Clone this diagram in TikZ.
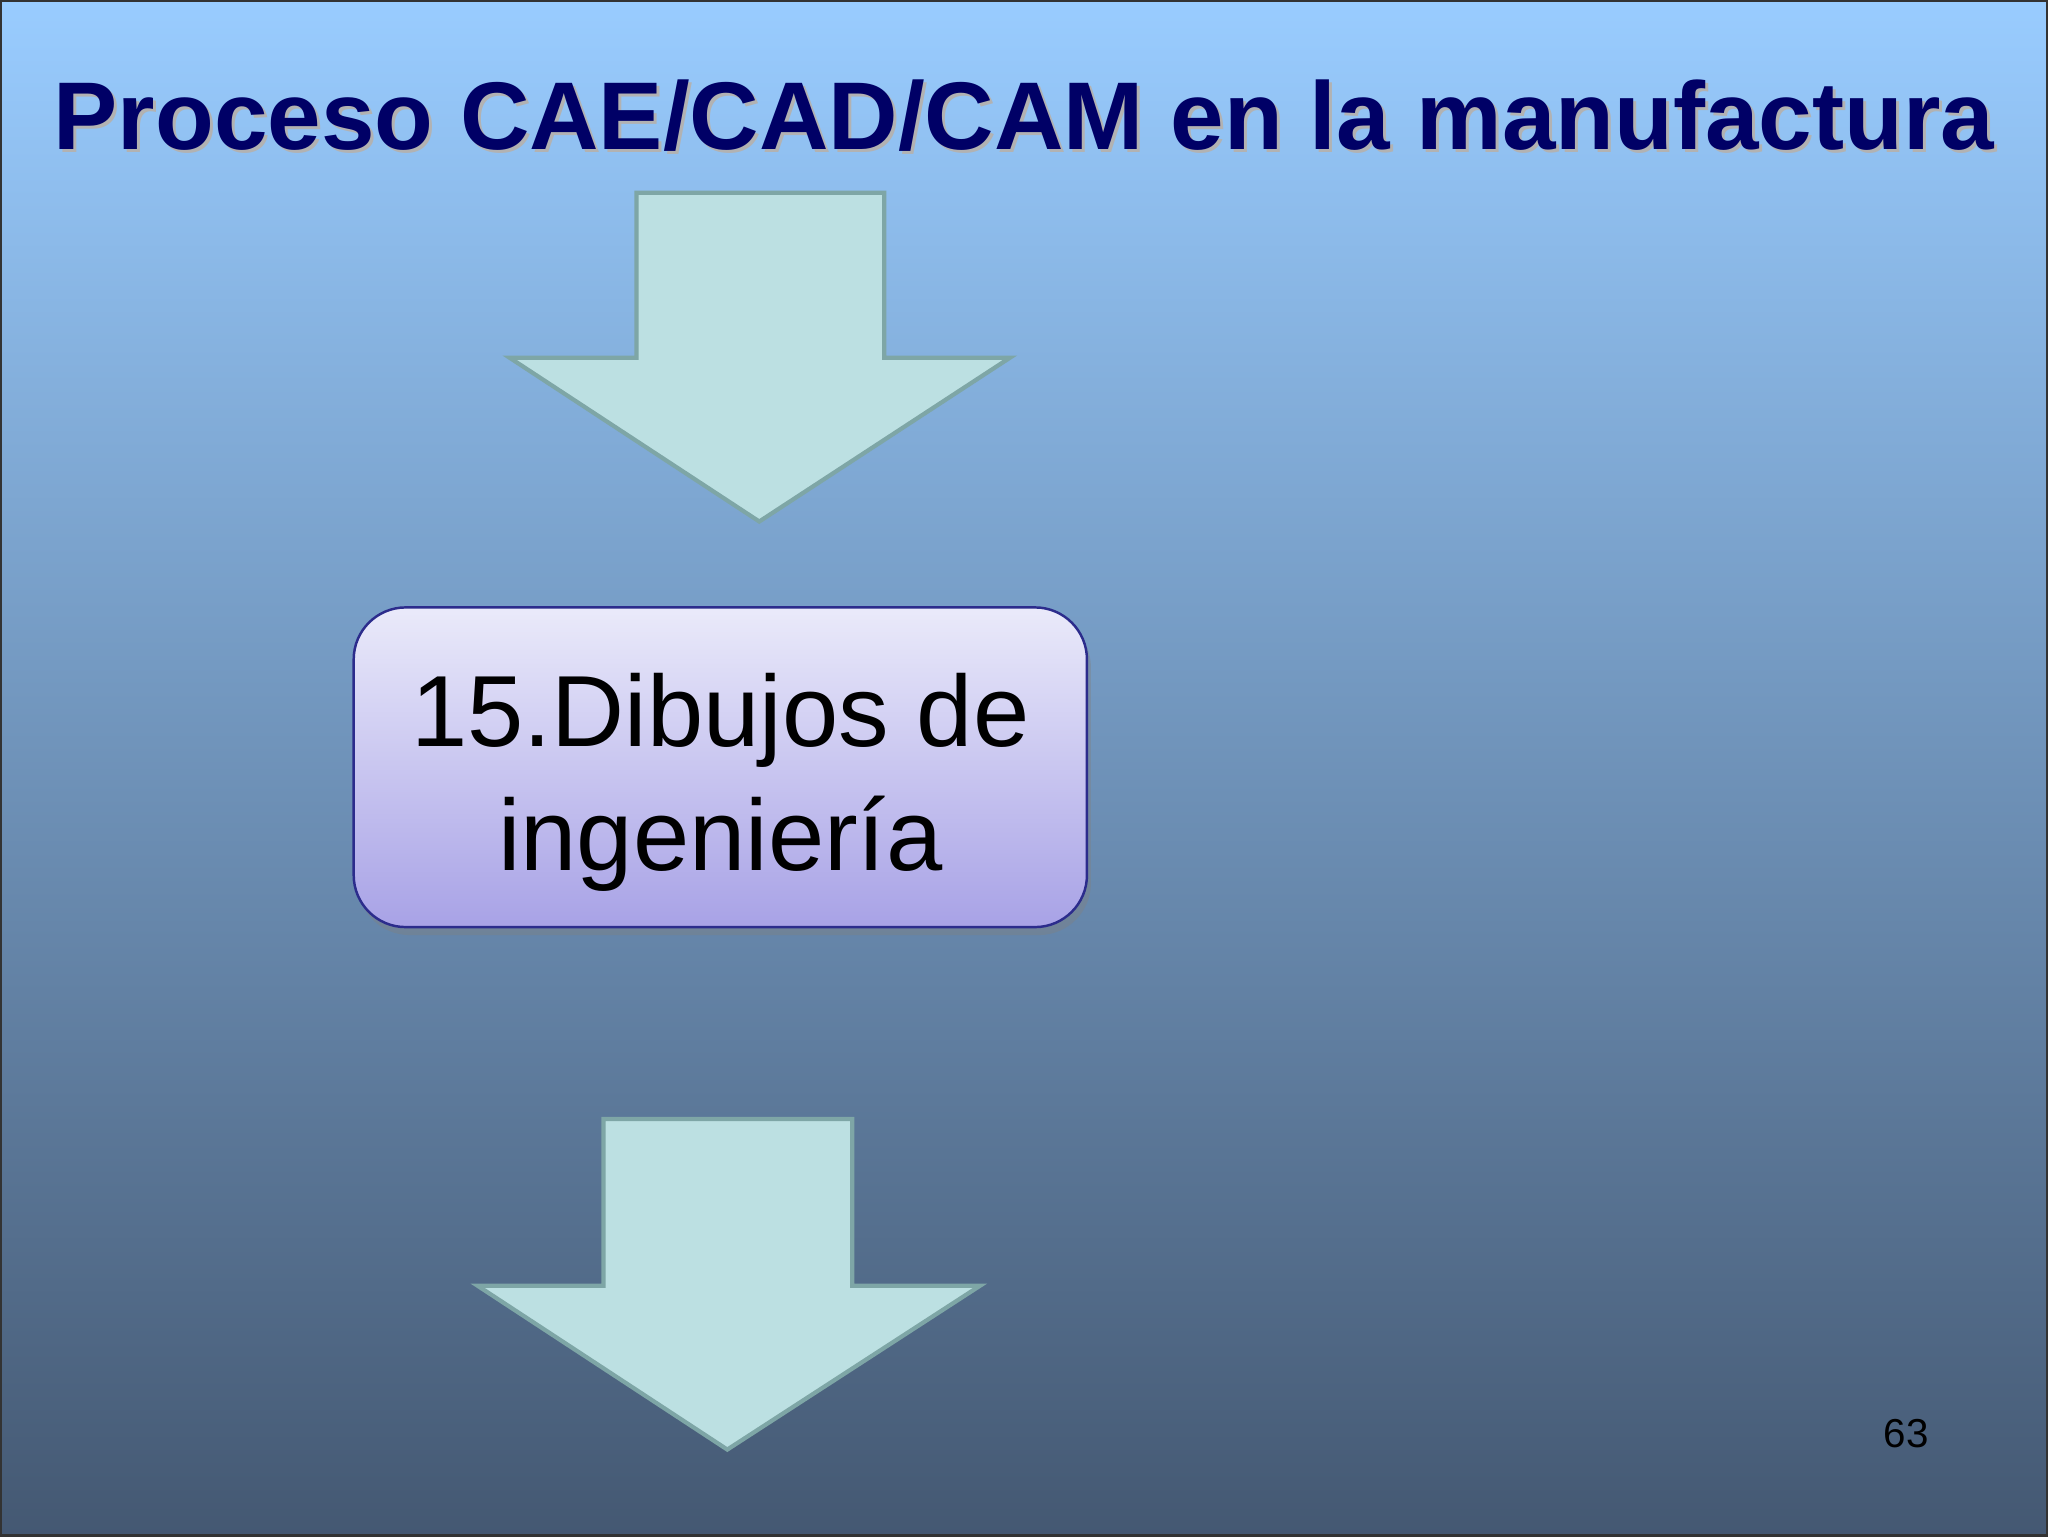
\documentclass[tikz,border=0pt]{standalone}
\usepackage{fontspec}
\setmainfont{Liberation Sans}
\usetikzlibrary{shadows}
\definecolor{bgtop}{RGB}{153,204,255}
\definecolor{bgbot}{RGB}{68,88,114}
\definecolor{titleblue}{RGB}{0,0,102}
\definecolor{arrowfill}{RGB}{188,224,226}
\definecolor{arrowline}{RGB}{126,166,166}
\definecolor{boxtop}{RGB}{234,234,250}
\definecolor{boxbot}{RGB}{168,162,230}
\definecolor{boxline}{RGB}{44,44,140}
\begin{document}
\begin{tikzpicture}[
    blockarrow/.style={fill=arrowfill,draw=arrowline,line width=1.2pt,line join=miter},
    stepbox/.style={rounded corners=0.52cm,draw=boxline,line width=0.7pt,
        top color=boxtop,bottom color=boxbot,
        minimum width=7.34cm,minimum height=3.2cm,
        drop shadow={shadow xshift=0.04cm,shadow yshift=-0.08cm,opacity=0.4}},
    steptext/.style={align=center,font=\fontsize{28.8}{35.3}\selectfont}
    ]
    % background
    \shade[top color=bgtop,bottom color=bgbot,draw=black!80,line width=0.6pt]
        (0,0) rectangle (20.48,15.36);
    \useasboundingbox (0,0) rectangle (20.48,15.36);

    % title
    \node[text=gray!60,font=\fontsize{27.4}{32}\selectfont\bfseries] at (10.27,14.18)
        {Proceso CAE/CAD/CAM en la manufactura};
    \node (title) [text=titleblue,font=\fontsize{27.4}{32}\selectfont\bfseries] at (10.24,14.21)
        {Proceso CAE/CAD/CAM en la manufactura};

    % arrows and box
    \draw[blockarrow] (6.36,13.44) -- (8.84,13.44) -- (8.84,11.79) -- (10.10,11.79)
        -- (7.59,10.15) -- (5.09,11.79) -- (6.36,11.79) -- cycle;
    \node (box) [stepbox] at (7.20,7.69) {};
    \node (dibujos) [steptext] at ([yshift=-0.15cm]box.center) {15.Dibujos de\\ingeniería};
    \draw[blockarrow] (6.03,4.17) -- (8.52,4.17) -- (8.52,2.50) -- (9.80,2.50)
        -- (7.27,0.86) -- (4.77,2.50) -- (6.03,2.50) -- cycle;

    \node (page) [font=\fontsize{11.5}{14}\selectfont] at (19.07,1.02) {63};
\end{tikzpicture}
\end{document}
